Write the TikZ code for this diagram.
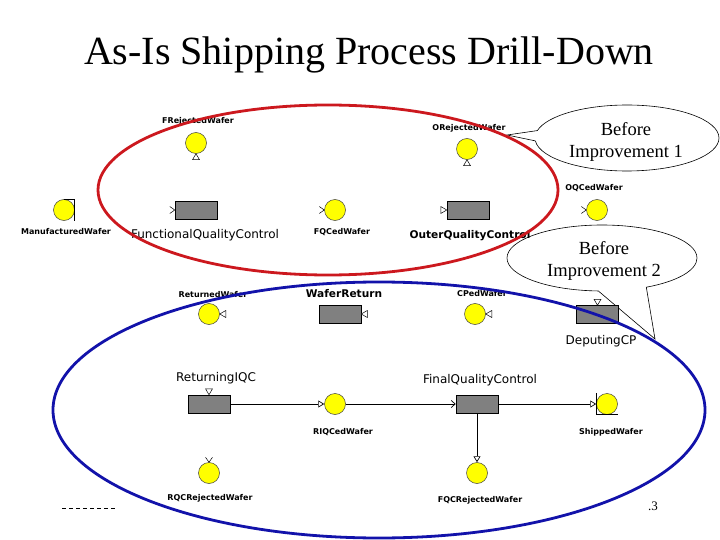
\documentclass[tikz,border=0pt]{standalone}
\usepackage{fontspec}
\setmainfont{Liberation Serif}
\newfontfamily\dejavu{DejaVu Sans}
\usetikzlibrary{shapes.callouts,arrows.meta}

\definecolor{ovalred}{RGB}{204,24,30}
\definecolor{ovalblue}{RGB}{18,18,170}
\definecolor{placeyellow}{RGB}{255,255,0}

\tikzset{
  pics/opentri/.style={code={\draw[fill=white,line width=0.5pt] (0,0) -- (-6,-3.5) -- (-6,3.5) -- cycle;}},
  pics/chevron/.style={code={\draw[line width=0.5pt] (-5,-3.5) -- (0,0) -- (-5,3.5);}}
}

\begin{document}
\begin{tikzpicture}[x=1pt,y=-1pt,
		place/.style={circle,draw=black!75,fill=placeyellow,minimum size=21pt,inner sep=0pt,line width=0.5pt},
		trans/.style={rectangle,draw=black,fill=gray,minimum width=42pt,minimum height=18pt,inner sep=0pt,line width=0.5pt},
		lbl/.style={font=\dejavu\bfseries\fontsize{8}{9}\selectfont,anchor=base,inner sep=0pt},
		tlbl/.style={font=\dejavu\fontsize{12}{14}\selectfont,anchor=base,inner sep=0pt},
		tlblb/.style={font=\dejavu\bfseries\fontsize{10.6}{12}\selectfont,anchor=base,inner sep=0pt},
		flow/.style={line width=0.7pt},
		bubble/.style={ellipse callout,draw=black,fill=white,line width=0.6pt,inner sep=0pt},
		bubbletext/.style={align=center,inner sep=0pt,font=\fontsize{18.5}{22}\selectfont},
		oval/.style={line width=2.8pt}
		]
\useasboundingbox (0,0) rectangle (720,540);

% title
\node[font=\fontsize{40}{48}\selectfont,anchor=base] (title) at (369,65) {As-Is Shipping Process Drill-Down};

% callouts
\node[bubble,minimum width=184pt,minimum height=66pt,
	callout absolute pointer={(507,135)},callout pointer arc=18] (before1) at (627,138) {};
\node[bubbletext] (before1-t) at (626,142) {Before\\Improvement 1};
\node[bubble,minimum width=190pt,minimum height=66pt,
	callout absolute pointer={(655,339)},callout pointer arc=30] (before2) at (602,258) {};
\node[bubbletext] (before2-t) at (604,261) {Before\\Improvement 2};

% places
\node[place] (frej) at (196,143) {};
\node[place] (manu) at (64,210) {};
\node[place] (fqced) at (335,210) {};
\node[place] (orej) at (467,149) {};
\node[place] (oqced) at (597,210) {};
\node[place] (retw) at (209,314) {};
\node[place] (cped) at (475,314) {};
\node[place] (riqced) at (335,404) {};
\node[place] (shipped) at (607,404) {};
\node[place] (rqcrej) at (209,473) {};
\node[place] (fqcrej) at (477,473) {};

% transitions
\node[trans] (funcqc) at (196,210) {};
\node[trans] (outerqc) at (468,210) {};
\node[trans] (waferret) at (340,314) {};
\node[trans] (deputing) at (597.5,314.5) {};
\node[trans] (retiqc) at (209,404) {};
\node[trans] (finalqc) at (477,404) {};

% labels
\node[lbl] (frej-l) at (198,124) {FRejectedWafer};
\node[lbl] (manu-l) at (66,235) {ManufacturedWafer};
\node[lbl] (fqced-l) at (342,234) {FQCedWafer};
\node[lbl] (orej-l) at (469,131) {ORejectedWafer};
\node[lbl] (oqced-l) at (594,191) {OQCedWafer};
\node[lbl] (retw-l) at (213,297) {ReturnedWafer};
\node[lbl] (cped-l) at (482,296) {CPedWafer};
\node[lbl] (riqced-l) at (343,434) {RIQCedWafer};
\node[lbl] (shipped-l) at (611,434) {ShippedWafer};
\node[lbl] (rqcrej-l) at (210,500) {RQCRejectedWafer};
\node[lbl] (fqcrej-l) at (480,502) {FQCRejectedWafer};
\node[tlbl] (funcqc-l) at (205,239) {FunctionalQualityControl};
\node[tlblb] (outerqc-l) at (470,238) {OuterQualityControl};
\node[tlblb] (waferret-l) at (344,297) {WaferReturn};
\node[tlbl] (deputing-l) at (601,344) {DeputingCP};
\node[tlbl] (retiqc-l) at (216,381) {ReturningIQC};
\node[tlbl] (finalqc-l) at (480,383) {FinalQualityControl};

% arcs
\draw[flow,-{Triangle[open,length=6pt,width=7pt]}] (retiqc) -- (riqced);
\draw[flow,-{Straight Barb[length=4pt,width=7pt]}] (riqced) -- (finalqc);
\draw[flow,-{Triangle[open,length=6pt,width=7pt]}] (finalqc) -- (shipped);
\draw[flow,-{Triangle[open,length=6pt,width=7pt]}] (finalqc) -- (fqcrej);

% loose arc ends
\pic[rotate=90] at (frej.south) {opentri};
\pic[rotate=90] at (orej.south) {opentri};
\pic at (funcqc.west) {chevron};
\pic at (fqced.west) {chevron};
\pic at (outerqc.west) {opentri};
\pic at (oqced.west) {chevron};
\pic[rotate=180] at (retw.east) {opentri};
\pic[rotate=180] at (waferret.east) {opentri};
\pic[rotate=180] at (cped.east) {opentri};
\pic[rotate=-90] at (deputing.north) {opentri};
\pic[rotate=-90] at (retiqc.north) {opentri};
\pic[rotate=-90] at (rqcrej.north) {chevron};

% source and sink brackets
\draw[line width=0.6pt] (manu.north) -- (manu.north -| manu.east) -- (manu.south -| manu.east);
\draw[line width=0.6pt] (shipped.north -| shipped.west) -- (shipped.south -| shipped.west) -- (shipped.south -| shipped.east);

% footer remnants
\draw[dash pattern=on 4pt off 3pt,line width=0.6pt] (62,508) -- (117,508);
\node[font=\fontsize{13}{15}\selectfont,anchor=base] (pageno) at (653,510) {.3};

% drill-down ovals
\draw[oval,ovalred] (328,190) ellipse [x radius=230,y radius=85];
\draw[oval,ovalblue] (379,410) ellipse [x radius=326,y radius=128];
\end{tikzpicture}
\end{document}
